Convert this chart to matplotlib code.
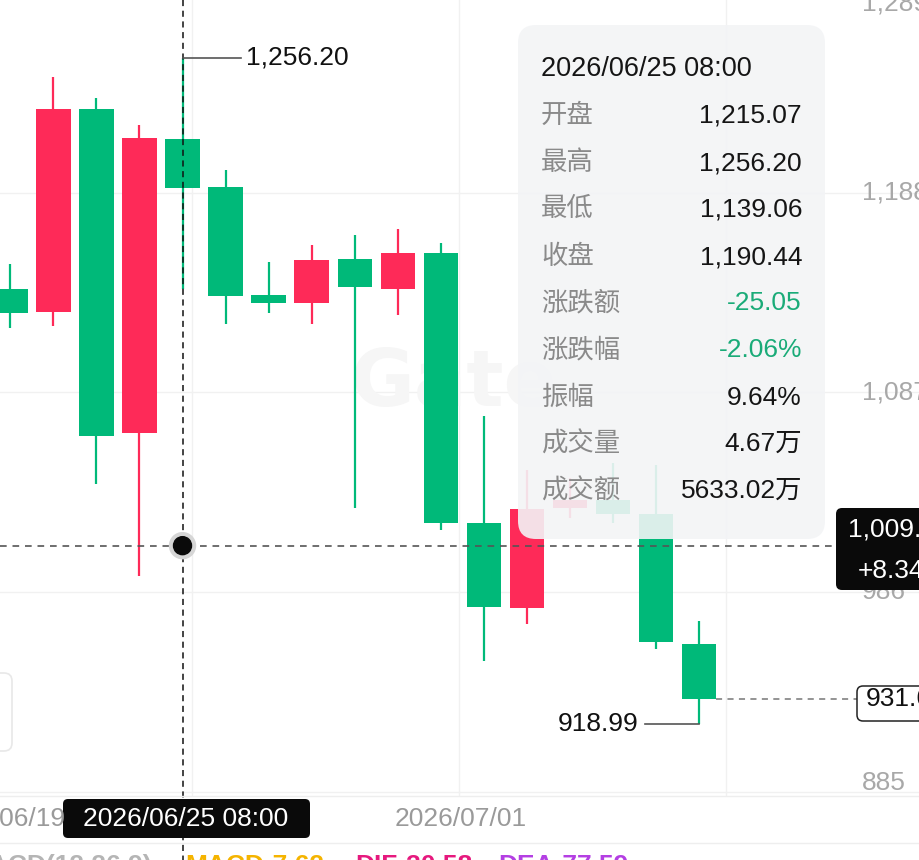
import matplotlib
matplotlib.use('Agg')
import matplotlib.pyplot as plt
from matplotlib.patches import FancyBboxPatch, Circle
from matplotlib.lines import Line2D
from matplotlib.transforms import Affine2D

plt.rcParams['font.family'] = ['Liberation Sans', 'Noto Sans CJK SC', 'DejaVu Sans']

# ---------------- data ----------------
opens  = [1139.2, 1127.6, 1230.3, 1066.2, 1215.07, 1190.6, 1136.3, 1132.3, 1154.4,
          1139.4, 1157.6, 1021.0, 977.7, 1028.4, 1032.5, 1025.4, 959.6]
highs  = [1151.7, 1246.6, 1236.0, 1222.0, 1256.20, 1199.2, 1153.0, 1161.5, 1166.4,
          1169.6, 1162.3, 1075.0, 1047.7, 1043.6, 1051.2, 1050.2, 971.4]
lows   = [1119.3, 1120.5, 1040.7, 994.2, 1139.06, 1121.7, 1127.2, 1121.3, 1028.4,
          1125.9, 1017.3, 951.2, 969.6, 1023.4, 1020.8, 957.1, 918.99]
closes = [1127.2, 1230.3, 1065.0, 1215.49, 1190.44, 1135.8, 1132.0, 1153.7, 1140.2,
          1157.4, 1021.0, 978.2, 1027.8, 1032.5, 1025.4, 960.8, 931.66]

y_ticks = [885, 986, 1087, 1188, 1289]
y_tick_labels = ['885', '986', '1,087', '1,188', '1,289']
x_tick_labels = ['2026/06/19', '2026/07/01']
x_tick_pos = [-0.24, 10.45]
x_grid_pos = [4.22, 10.42, 16.62]

hover_index = 4
hover_time = '2026/06/25 08:00'
tooltip_labels = ['开盘', '最高', '最低', '收盘', '涨跌额', '涨跌幅', '振幅', '成交量', '成交额']
tooltip_values = ['1,215.07', '1,256.20', '1,139.06', '1,190.44', '-25.05', '-2.06%', '9.64%', '4.67万', '5633.02万']
crosshair_value = 1009.40
crosshair_pct = '+8.34%'
indicator_texts = ['MACD(12,26,9)', 'MACD:7.62', 'DIF:30.58', 'DEA:77.59']

UP = '#FE2A58'
DOWN = '#00B979'

W, H = 920, 860
fig = plt.figure(figsize=(W / 100, H / 100), dpi=100)
fig.patch.set_facecolor('white')
T = Affine2D().scale(1, -1).translate(0, H)  # pixel coords, origin top-left

plot_bottom = 796
ax = fig.add_axes([0, (H - plot_bottom) / H, 1, plot_bottom / H])
ax.set_xlim(-0.2393, 21.13)
ax.set_ylim(882.79, 1285.39)
ax.axis('off')

# grid
for v in y_ticks:
    ax.axhline(v, color='#f1f1f1', lw=1.0, zorder=0)
for xg in x_grid_pos:
    ax.axvline(xg, color='#f1f1f1', lw=1.0, zorder=0, ymin=0, ymax=1)

# watermark
ax.text(10.3, 1091, 'Gate', fontsize=56, fontweight='bold', color='#f6f6f6',
        ha='center', va='center', zorder=0.5, family='DejaVu Sans')

# candles
idx = list(range(len(opens)))
colors = [UP if c >= o else DOWN for o, c in zip(opens, closes)]
ax.vlines(idx, lows, highs, colors=colors, lw=1.6, zorder=2)
ax.bar(idx, [abs(c - o) for o, c in zip(opens, closes)],
       bottom=[min(o, c) for o, c in zip(opens, closes)],
       width=0.80, color=colors, zorder=3, linewidth=0)

def px_of(x, y):
    dx, dy = ax.transData.transform((x, y))
    return dx, H - dy

# crosshair lines
ax.axhline(crosshair_value, xmin=0, xmax=836 / W, color='#555555', lw=1.2,
           dashes=(4, 3.5), zorder=5)
cx, cy = px_of(hover_index, crosshair_value)
fig.add_artist(Line2D([cx, cx], [0, H], transform=T, color='#111111', lw=1.1,
                      dashes=(4, 3), zorder=0.9))
fig.add_artist(Circle((cx, cy), 13, transform=T, color='#d6d6d6', zorder=1.0))
fig.add_artist(Circle((cx, cy), 9, transform=T, color='#0a0a0a', zorder=1.05))

# last price line
last = closes[-1]
lx, ly = px_of(len(closes) - 1, last)
ax.plot([len(closes) - 1 + 0.4, (857 - 10.3) / 43.05], [last, last], color='#777777',
        lw=1.1, dashes=(4, 3.5), zorder=4)

# high / low annotations
hx, hy = px_of(hover_index, highs[hover_index])
fig.add_artist(Line2D([hx, hx + 58], [hy, hy], transform=T, color='#555555', lw=1.2))
fig.text(hx + 63, hy, f'{highs[hover_index]:,.2f}', transform=T, fontsize=19,
         color='#111111', ha='left', va='center')
lo_i = len(lows) - 1
lwx, lwy = px_of(lo_i, lows[lo_i])
fig.add_artist(Line2D([lwx - 54, lwx], [lwy, lwy], transform=T, color='#555555', lw=1.2))
fig.text(lwx - 61, lwy, f'{lows[lo_i]:,.2f}', transform=T, fontsize=19,
         color='#111111', ha='right', va='center')

# y-axis labels (right, inside)
for v, lab in zip(y_ticks, y_tick_labels):
    _, py = px_of(0, v)
    py = min(max(py, 3), 783)
    fig.text(862, py, lab, transform=T, fontsize=19, color='#a8a8a8',
             ha='left', va='center', zorder=0.8)

# x-axis separators and labels
fig.add_artist(Line2D([0, W], [plot_bottom, plot_bottom], transform=T, color='#eeeeee', lw=1))
fig.add_artist(Line2D([0, W], [843, 843], transform=T, color='#eeeeee', lw=1))
for xp, lab in zip(x_tick_pos, x_tick_labels):
    px, _ = px_of(xp, 1000)
    fig.text(px, 819, lab, transform=T, fontsize=19, color='#9a9a9a',
             ha='center', va='center')

# crosshair time label
fig.add_artist(FancyBboxPatch((63, 799), 247, 39, boxstyle='round,pad=0,rounding_size=5',
                              transform=T, fc='#0a0a0a', ec='none', zorder=2))
fig.text(186, 819, hover_time, transform=T, fontsize=19, color='white',
         ha='center', va='center', zorder=3)

# crosshair value label
fig.add_artist(FancyBboxPatch((836, 508), 100, 82, boxstyle='round,pad=0,rounding_size=6',
                              transform=T, fc='#0a0a0a', ec='none', zorder=2))
fig.text(848, 530, f'{crosshair_value:,.2f}', transform=T, fontsize=19, color='white',
         ha='left', va='center', zorder=3)
fig.text(858, 571, crosshair_pct, transform=T, fontsize=19, color='white',
         ha='left', va='center', zorder=3)

# last price label
fig.add_artist(FancyBboxPatch((857, 686), 80, 35, boxstyle='round,pad=0,rounding_size=6',
                              transform=T, fc='white', ec='#222222', lw=1.1, zorder=2))
fig.text(866, ly, f'{last:,.2f}', transform=T, fontsize=19, color='#111111',
         ha='left', va='center', zorder=3)

# left side control outline
fig.add_artist(FancyBboxPatch((-30, 673), 42, 78, boxstyle='round,pad=0,rounding_size=8',
                              transform=T, fc='none', ec='#e8e8e8', lw=1.2, zorder=1))

# tooltip
fig.add_artist(FancyBboxPatch((518, 25), 307, 514, boxstyle='round,pad=0,rounding_size=18',
                              transform=T, fc='#f3f4f6', ec='none', alpha=0.9, zorder=1.5))
fig.text(541, 69, hover_time, transform=T, fontsize=19.5, color='#151515',
         ha='left', va='center', zorder=3)
row_y = [116, 163, 209, 257, 303, 350, 398, 444, 491]
for yy, lab, val in zip(row_y, tooltip_labels, tooltip_values):
    fig.text(541, yy, lab, transform=T, fontsize=19, color='#8a8a8a',
             ha='left', va='center', zorder=3)
    vc = '#1aab78' if val.startswith('-') else '#151515'
    fig.text(802, yy, val, transform=T, fontsize=19, color=vc,
             ha='right', va='center', zorder=3)

# indicator row (mostly clipped at bottom)
ind_x = [152, 185, 355, 498]
ind_c = ['#b5b5b5', '#F5B400', '#E6197E', '#B43FE3']
for i, (xx, s, c) in enumerate(zip(ind_x, indicator_texts, ind_c)):
    fig.text(xx, 854, s, transform=T, fontsize=19, color=c, fontweight='bold',
             ha='right' if i == 0 else 'left', va='top')

fig.savefig('out.png', dpi=100, facecolor='white')
